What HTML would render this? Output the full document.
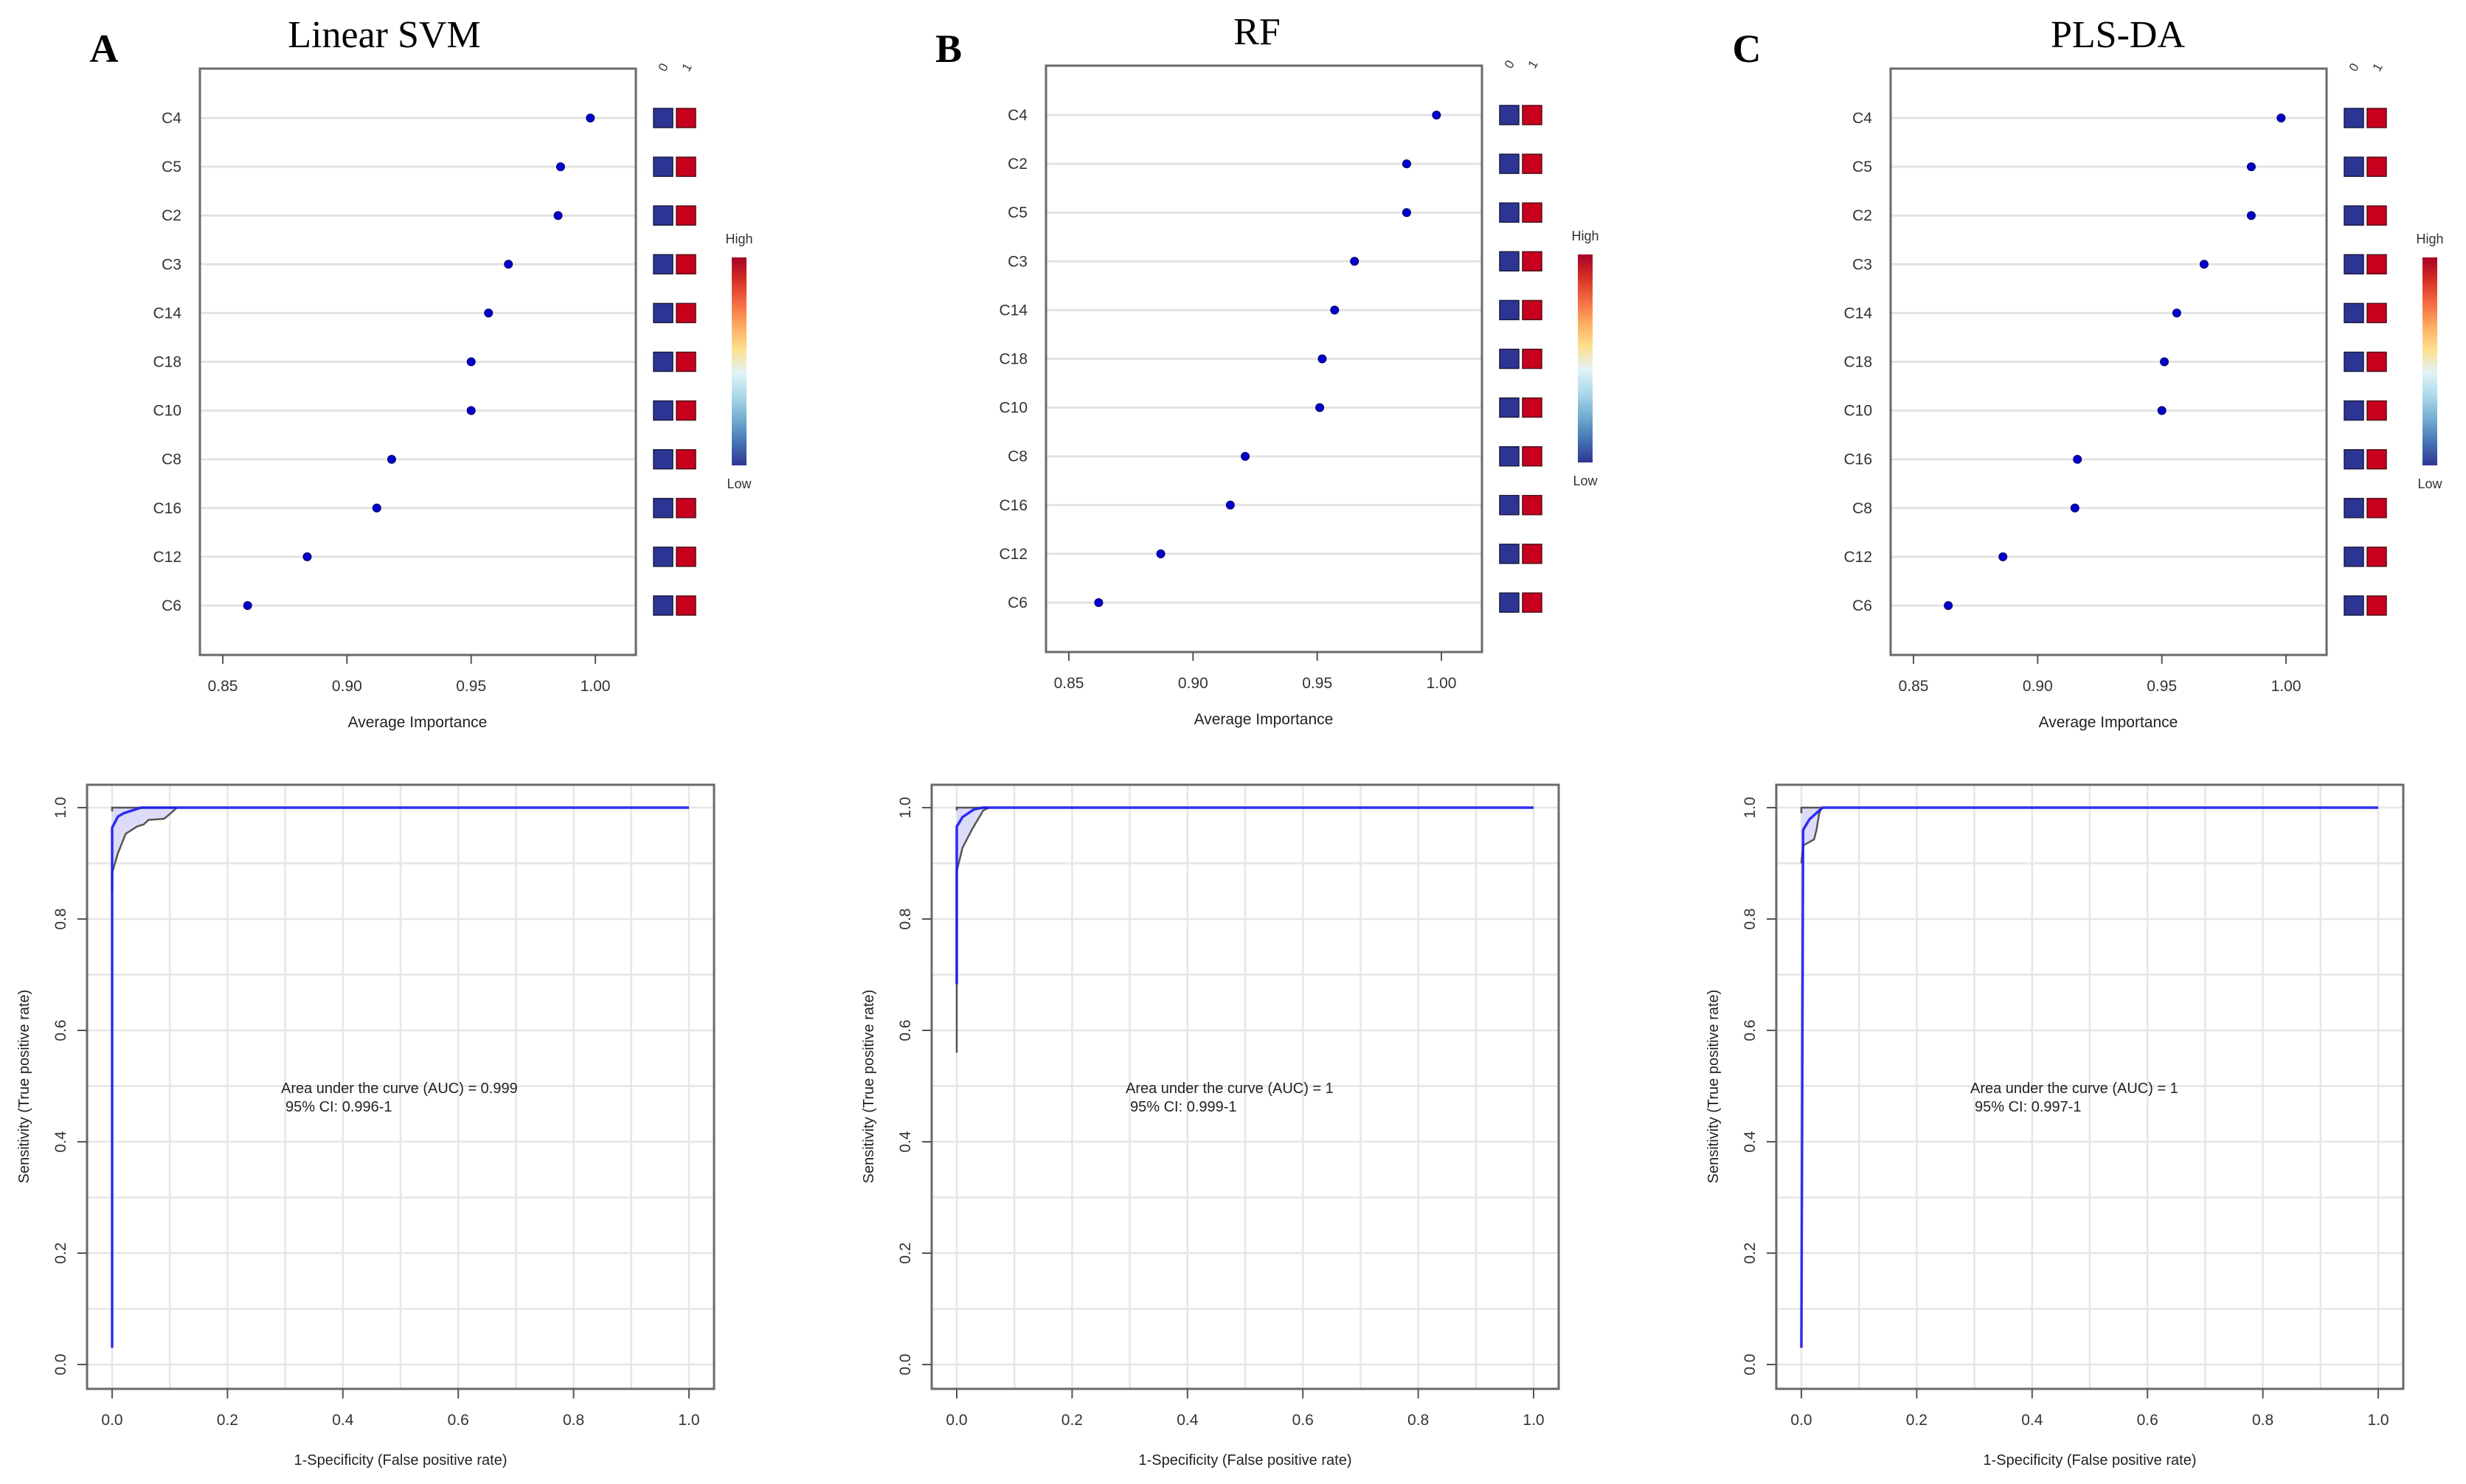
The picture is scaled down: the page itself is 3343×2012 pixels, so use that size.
<!DOCTYPE html>
<html><head><meta charset="utf-8"><style>
html,body{margin:0;padding:0;background:#fff;}
svg{display:block;}
text{font-family:"Liberation Sans",sans-serif;}
</style></head><body>
<svg id="fig" width="3343" height="2012" viewBox="0 0 3343 2012" xmlns="http://www.w3.org/2000/svg"></svg>
<script>
// ---------- DATA ----------
const titles = ["Linear SVM", "RF", "PLS-DA"];
const letters = ["A", "B", "C"];
const featA = ["C4","C5","C2","C3","C14","C18","C10","C8","C16","C12","C6"];
const impA  = [0.998,0.986,0.985,0.965,0.957,0.950,0.950,0.918,0.912,0.884,0.860];
const featB = ["C4","C2","C5","C3","C14","C18","C10","C8","C16","C12","C6"];
const impB  = [0.998,0.986,0.986,0.965,0.957,0.952,0.951,0.921,0.915,0.887,0.862];
const featC = ["C4","C5","C2","C3","C14","C18","C10","C16","C8","C12","C6"];
const impC  = [0.998,0.986,0.986,0.967,0.956,0.951,0.950,0.916,0.915,0.886,0.864];
const impTicks = [0.85,0.90,0.95,1.00];
const impTickLabels = ["0.85","0.90","0.95","1.00"];
const rocTicks = [0,0.2,0.4,0.6,0.8,1.0];
const rocTickLabels = ["0.0","0.2","0.4","0.6","0.8","1.0"];
const rocA = [[0,0.03],[0,0.964],[0.01,0.984],[0.02,0.99],[0.035,0.995],[0.05,1],[1,1]];
const ciA  = [[0,0.85],[0,0.883],[0.01,0.918],[0.0235,0.953],[0.043,0.966],[0.055,0.97],[0.063,0.978],[0.09,0.98],[0.105,0.993],[0.112,1]];
const rocB = [[0,0.683],[0,0.966],[0.01,0.983],[0.03,0.997],[0.045,1],[1,1]];
const ciB  = [[0,0.56],[0,0.886],[0.01,0.928],[0.027,0.962],[0.046,0.995],[0.056,1]];
const rocC = [[0,0.03],[0.003,0.96],[0.014,0.979],[0.029,0.993],[0.037,1],[1,1]];
const ciC  = [[0,0.9],[0.003,0.932],[0.022,0.943],[0.026,0.959],[0.031,0.99],[0.035,1]];
const aucText = ["Area under the curve (AUC) = 0.999","Area under the curve (AUC) = 1","Area under the curve (AUC) = 1"];
const ciText = ["95% CI: 0.996-1","95% CI: 0.999-1","95% CI: 0.997-1"];

const feats=[featA,featB,featC], imps=[impA,impB,impC], rocs=[rocA,rocB,rocC], cis=[ciA,ciB,ciC];
const titleX=[521,1704,2871], letterX=[141,1286,2368];
const topDx=[0,1147,2292], topDy=[0,-4,0];
const botDx=[0,1145,2290];

const NS="http://www.w3.org/2000/svg";
const svg=document.getElementById('fig');
function mk(tag,attrs,parent,txt){const e=document.createElementNS(NS,tag);for(const k in attrs)e.setAttribute(k,attrs[k]);if(txt!==undefined)e.textContent=txt;(parent||svg).appendChild(e);return e;}

// defs gradient
const defs=mk('defs',{});
const grad=mk('linearGradient',{id:'cb',x1:0,y1:0,x2:0,y2:1},defs);
const cbCols=["#a50026","#d73027","#f46d43","#fdae61","#fee090","#e0f3f8","#abd9e9","#74add1","#4575b4","#313695"];
cbCols.forEach((c,i)=>mk('stop',{offset:(i/(cbCols.length-1)),'stop-color':c},grad));

for(let p=0;p<3;p++){
  const g=mk('g',{});
  
  
  const L=mk('text',{x:letterX[p],y:84,'font-size':54,'font-weight':'bold','text-anchor':'middle',style:'font-family:"Liberation Serif",serif'},g,letters[p]);
  
  
  const T=mk('text',{x:titleX[p],y:64+topDy[p],'font-size':52,'text-anchor':'middle',style:'font-family:"Liberation Serif",serif'},g,titles[p]);
  
  

  // ---- importance plot ----
  const dx=topDx[p], dy=topDy[p];
  const bx0=271+dx,bx1=862+dx,by0=93+dy,by1=888+dy;
  const xs=v=>302+dx+(v-0.85)*3367;
  const ys=i=>160+dy+i*66.1;
  const tg=mk('g',{},g);
  
  
  feats[p].forEach((f,i)=>{
    const gl=mk('line',{x1:bx0,x2:bx1,y1:ys(i),y2:ys(i),stroke:'#e3e3e3','stroke-width':3},tg);
    
    
    const lb=mk('text',{x:246+dx,y:ys(i)+7,'font-size':21,'text-anchor':'end',fill:'#333'},tg,f);
    
    
    const d=mk('circle',{cx:xs(imps[p][i]),cy:ys(i),r:5.5,fill:'#0000cc',stroke:'#000066','stroke-width':1},tg);
    
    
    const sb=mk('rect',{x:886+dx,y:ys(i)-13,width:26,height:26,fill:'#2d3594',stroke:'#1a1a40','stroke-width':1.5},tg);
    
    
    const sr=mk('rect',{x:917+dx,y:ys(i)-13,width:26,height:26,fill:'#c8001e',stroke:'#501018','stroke-width':1.5},tg);
    
    
  });
  const bb=mk('rect',{x:bx0,y:by0,width:bx1-bx0,height:by1-by0,fill:'none',stroke:'#6a6a6a','stroke-width':3},tg);
  
  
  impTicks.forEach((t,i)=>{
    const tk=mk('line',{x1:xs(t),x2:xs(t),y1:by1,y2:by1+12,stroke:'#555','stroke-width':2},tg);
    
    
    const tl=mk('text',{x:xs(t),y:937+dy,'font-size':21,'text-anchor':'middle',fill:'#333'},tg,impTickLabels[i]);
    
    
  });
  const xt=mk('text',{x:566+dx,y:986+dy,'font-size':21,'text-anchor':'middle',fill:'#222'},tg,'Average Importance');
  
  
  ["0","1"].forEach((c,i)=>{
    const x=904+dx+i*32, y=94+dy;
    const ct=mk('text',{x:x,y:y,'font-size':17,'text-anchor':'middle',fill:'#333',transform:`rotate(-60 ${x} ${y})`},tg,c);
    
    
  });
  const cb=mk('rect',{x:992+dx,y:349+dy,width:20,height:282,fill:'url(#cb)'},tg);
  
  
  const hi=mk('text',{x:1002+dx,y:330+dy,'font-size':18,'text-anchor':'middle',fill:'#333'},tg,'High');
  
  
  const lo=mk('text',{x:1002+dx,y:662+dy,'font-size':18,'text-anchor':'middle',fill:'#333'},tg,'Low');
  
  

  // ---- ROC plot ----
  const ox=botDx[p];
  const rx=v=>152+ox+v*782;
  const ry=v=>1850-v*755;
  const rg=mk('g',{},g);
  
  
  const rb0=118+ox, rb1=968+ox, rt0=1064, rt1=1883;
  for(let k=0;k<=10;k++){
    const v=k/10;
    const gv=mk('line',{x1:rx(v),x2:rx(v),y1:rt0,y2:rt1,stroke:'#e6e6e6','stroke-width':2.5},rg);
    
    
    const gh=mk('line',{x1:rb0,x2:rb1,y1:ry(v),y2:ry(v),stroke:'#e6e6e6','stroke-width':2.5},rg);
    
    
  }
  const ci=cis[p];
  const xEnd=ci[ci.length-1][0];
  let pts=[[0,1],[xEnd,1]];
  for(let k=ci.length-1;k>=0;k--)pts.push(ci[k]);
  const poly=mk('polygon',{points:pts.map(q=>rx(q[0])+','+ry(q[1])).join(' '),fill:'#dcdcfa',stroke:'none'},rg);
  
  
  const up=mk('polyline',{points:[[0,ci[ci.length-2][1]],[0,1],[xEnd,1]].map(q=>rx(q[0])+','+ry(q[1])).join(' '),fill:'none',stroke:'#555','stroke-width':2.5},rg);
  
  
  const low=mk('polyline',{points:ci.map(q=>rx(q[0])+','+ry(q[1])).join(' '),fill:'none',stroke:'#555','stroke-width':2.5},rg);
  
  
  const roc=mk('polyline',{points:rocs[p].map(q=>rx(q[0])+','+ry(q[1])).join(' '),fill:'none',stroke:'#1a1aee','stroke-width':3.5,'stroke-opacity':0.9},rg);
  
  
  const fr=mk('rect',{x:rb0,y:rt0,width:rb1-rb0,height:rt1-rt0,fill:'none',stroke:'#6a6a6a','stroke-width':3},rg);
  
  
  rocTicks.forEach((t,i)=>{
    const tx=mk('line',{x1:rx(t),x2:rx(t),y1:rt1,y2:rt1+13,stroke:'#555','stroke-width':2},rg);
    
    
    const tl=mk('text',{x:rx(t),y:1932,'font-size':21,'text-anchor':'middle',fill:'#333'},rg,rocTickLabels[i]);
    
    
    const ty=mk('line',{x1:rb0,x2:rb0-13,y1:ry(t),y2:ry(t),stroke:'#555','stroke-width':2},rg);
    
    
    const lx=89+ox, ly=ry(t);
    const yl=mk('text',{x:lx,y:ly,'font-size':21,'text-anchor':'middle',fill:'#333',transform:`rotate(-90 ${lx} ${ly})`},rg,rocTickLabels[i]);
    
    
  });
  const xtt=mk('text',{x:543+ox,y:1986,'font-size':20,'text-anchor':'middle',fill:'#222'},rg,'1-Specificity (False positive rate)');
  
  
  const yx=39+ox, yy=1473;
  const ytt=mk('text',{x:yx,y:yy,'font-size':20,'text-anchor':'middle',fill:'#222',transform:`rotate(-90 ${yx} ${yy})`},rg,'Sensitivity (True positive rate)');
  
  
  const a1=mk('text',{x:381+ox,y:1482,'font-size':20,fill:'#222'},rg,aucText[p]);
  
  
  const a2=mk('text',{x:387+ox,y:1507,'font-size':20,fill:'#222'},rg,ciText[p]);
  
  
}
</script>
</body></html>
